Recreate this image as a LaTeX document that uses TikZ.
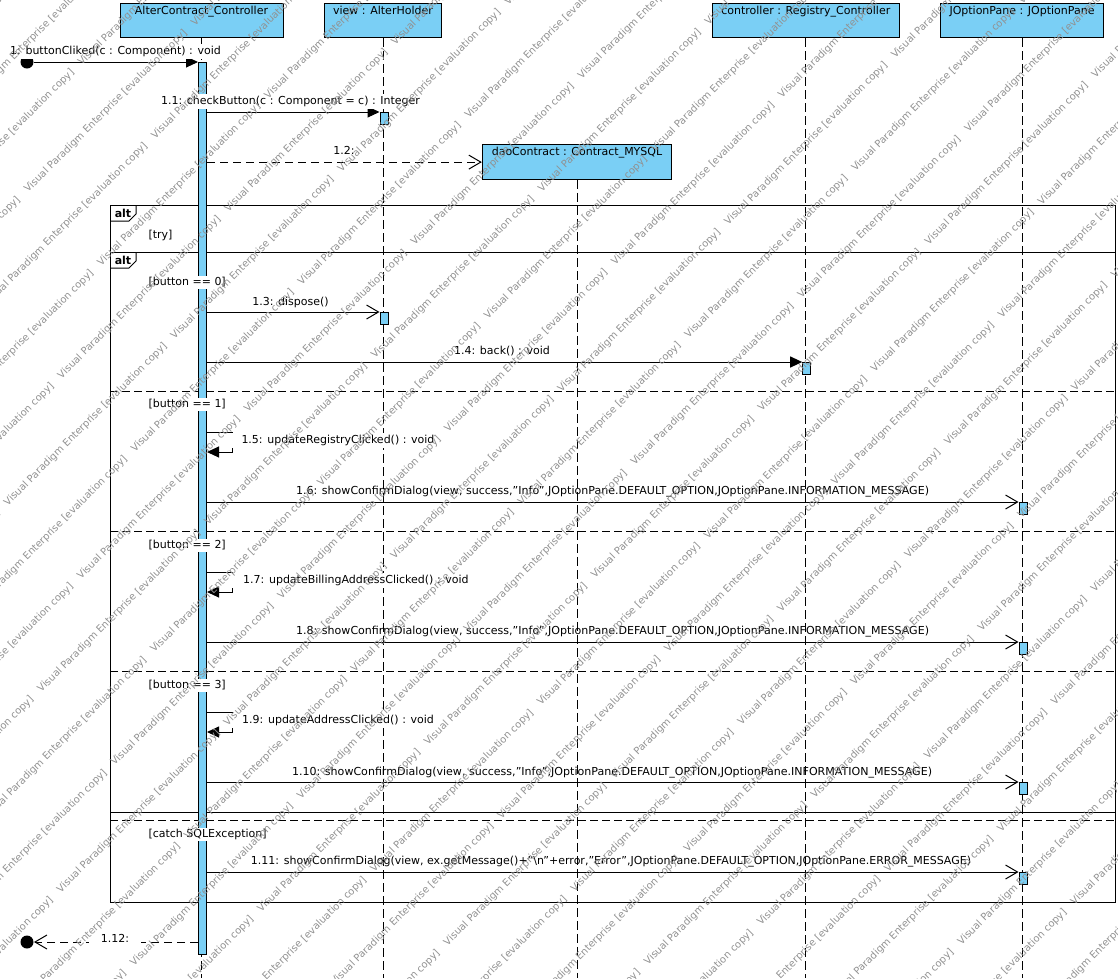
\documentclass[tikz,border=0pt]{standalone}
\usepackage{fontspec}
\usepackage{graphicx}
\setmainfont{DejaVu Sans}
\usetikzlibrary{arrows.meta}
\definecolor{lifefill}{RGB}{122,207,245}
\definecolor{wmgray}{RGB}{145,145,145}
\newcommand{\fitto}[2]{\resizebox{#1}{\height}{#2}}

\begin{document}
\begin{tikzpicture}[x=1pt, y=-1pt, line width=1pt,
  font=\fontsize{11}{13}\selectfont,
  head/.style={draw, fill=lifefill, anchor=north, inner xsep=0pt, inner ysep=0pt,
    text height=10.8pt, text depth=23.8pt},
  bar/.style={draw, fill=lifefill, minimum width=8pt, inner sep=0pt, anchor=north},
  lifeline/.style={dash pattern=on 9pt off 4pt},
  frame/.style={draw, anchor=north west, inner sep=0pt},
  sep/.style={dash pattern=on 8pt off 4pt},
  call/.style={-{Triangle[length=12pt,width=11pt]}},
  async/.style={-{Straight Barb[length=12pt,width=14pt]}},
  create/.style={dash pattern=on 8pt off 5pt, -{Straight Barb[length=12pt,width=14pt]}},
  reply/.style={dash pattern=on 8pt off 5pt, -{Straight Barb[length=12pt,width=14pt]}},
  msglabel/.style={fill=white, inner xsep=12pt, inner ysep=2pt, text height=8.5pt, text depth=2.5pt},
  longlabel/.style={inner sep=0pt, text height=8.5pt, text depth=2.5pt},
  guard/.style={fill=white, anchor=west, inner xsep=1pt, inner ysep=1pt, text height=8.5pt, text depth=2.5pt},
  tabtext/.style={font=\fontsize{11}{13}\selectfont\bfseries, inner sep=0pt},
  endpoint/.style={circle, fill=black, minimum size=13pt, inner sep=0pt},
  wm/.style={font=\fontsize{10}{12}\selectfont, text=wmgray, rotate=45, anchor=west, inner sep=0pt}]

\useasboundingbox (0,0) rectangle (1118,978);
\coordinate (bottom) at (0,978);

% ---- combined fragments ----
\node[frame, minimum width=1005pt, minimum height=697pt] (tryalt) at (110,205) {};
\node[frame, minimum width=1005pt, minimum height=560pt] (btnalt) at (110,252) {};
\draw (tryalt.north west) ++(0,16) -- ++(19,0) -- ++(7,-7) -- ++(0,-9);
\draw (btnalt.north west) ++(0,16) -- ++(19,0) -- ++(7,-7) -- ++(0,-9);
\node[tabtext] (tab1) at (123,213.5) {alt};
\node[tabtext] (tab2) at (123,260.5) {alt};
\draw[sep] (110,391) -- (1115,391);
\draw[sep] (110,531) -- (1115,531);
\draw[sep] (110,671) -- (1115,671);
\draw[sep] (110,820) -- (1115,820);

% ---- lifeline heads ----
\node[head, minimum width=163pt] (hA) at (201.5,2.7) {AlterContract\_Controller};
\node[head, minimum width=117.4pt] (hV) at (383,2.7) {view : AlterHolder};
\node[head, minimum width=189.4pt] (hD) at (577,144.3) {daoContract : Contract\_MYSQL};
\node[head, minimum width=187pt] (hC) at (805.8,2.7) {controller : Registry\_Controller};
\node[head, minimum width=162.6pt] (hJ) at (1022,2.7) {JOptionPane : JOptionPane};

% ---- lifelines ----
\draw[lifeline] (hA.south) -- (hA.south |- bottom);
\draw[lifeline] (hV.south) -- (hV.south |- bottom);
\draw[lifeline] (hD.south) -- (hD.south |- bottom);
\draw[lifeline] (hC.south) -- (hC.south |- bottom);
\draw[lifeline] (hJ.south) -- (hJ.south |- bottom);

% ---- activations ----
\node[bar, minimum height=892pt] (bA) at (202.5,62) {};
\node[bar, minimum height=12pt] (bV1) at (384,112) {};
\node[bar, minimum height=12pt] (bV2) at (384,312) {};
\node[bar, minimum height=12pt] (bC) at (806.7,362) {};
\node[bar, minimum height=12pt] (bJ1) at (1023,502) {};
\node[bar, minimum height=12pt] (bJ2) at (1023,642) {};
\node[bar, minimum height=12pt] (bJ3) at (1023,782) {};
\node[bar, minimum height=12pt] (bJ4) at (1023,872) {};

% ---- found / lost message ends ----
\node[endpoint] (src) at (27,62) {};
\node[endpoint] (sink) at (27,942) {};
\coordinate (s5a) at (232,432);  \coordinate (s5b) at (232,452);
\coordinate (s7a) at (232,572);  \coordinate (s7b) at (232,592);
\coordinate (s9a) at (232,712);  \coordinate (s9b) at (232,732);

% ---- messages ----
\draw[call] (src) -- (bA.north west);
\draw[call] (bA.east |- bV1.north) -- (bV1.north west);
\draw[create] (bA.east |- hD.west) -- (hD.west);
\draw[async] (bA.east |- bV2.north) -- (bV2.north west);
\draw[call] (bA.east |- bC.north) -- (bC.north west);
\draw[call] (bA.east |- s5a) -- (s5a) -- (s5b) -- (bA.east |- s5b);
\draw[async] (bA.east |- bJ1.north) -- (bJ1.north west);
\draw[call] (bA.east |- s7a) -- (s7a) -- (s7b) -- (bA.east |- s7b);
\draw[async] (bA.east |- bJ2.north) -- (bJ2.north west);
\draw[call] (bA.east |- s9a) -- (s9a) -- (s9b) -- (bA.east |- s9b);
\draw[async] (bA.east |- bJ3.north) -- (bJ3.north west);
\draw[async] (bA.east |- bJ4.north) -- (bJ4.north west);
\draw[reply] (bA.west |- sink) -- (sink);

% ---- message labels ----
\node[msglabel] (l1) at (115.5,51) {1: buttonCliked(c : Component) : void};
\node[msglabel] (l11) at (290.5,101) {1.1: checkButton(c : Component = c) : Integer};
\node[msglabel] (l12) at (344,151) {1.2:};
\node[msglabel] (l13) at (290.5,302) {1.3: dispose()};
\node[msglabel] (l14) at (502,351) {1.4: back() : void};
\node[msglabel, anchor=west] (l15) at (229,440.3) {1.5: updateRegistryClicked() : void};
\node[msglabel, anchor=west] (l17) at (230.7,580.3) {1.7: updateBillingAddressClicked() : void};
\node[msglabel, anchor=west] (l19) at (229.7,720.3) {1.9: updateAddressClicked() : void};
\node[msglabel] (l112) at (115,939) {1.12:};
\node[longlabel] (l16) at (612.5,491) {\fitto{633pt}{1.6: showConfirmDialog(view, success,"Info",JOptionPane.DEFAULT\_OPTION,JOptionPane.INFORMATION\_MESSAGE)}};
\node[longlabel] (l18) at (612.5,631) {\fitto{633pt}{1.8: showConfirmDialog(view, success,"Info",JOptionPane.DEFAULT\_OPTION,JOptionPane.INFORMATION\_MESSAGE)}};
\node[longlabel] (l110) at (612,772) {\fitto{640pt}{1.10: showConfirmDialog(view, success,"Info",JOptionPane.DEFAULT\_OPTION,JOptionPane.INFORMATION\_MESSAGE)}};
\node[longlabel] (l111) at (611,861) {\fitto{720pt}{1.11: showConfirmDialog(view, ex.getMessage()+"\textbackslash n"+error,"Error",JOptionPane.DEFAULT\_OPTION,JOptionPane.ERROR\_MESSAGE)}};

% ---- guards ----
\node[guard] (g0) at (147,235) {[try]};
\node[guard] (g1) at (147,282) {[button == 0]};
\node[guard] (g2) at (147,404.5) {[button == 1]};
\node[guard] (g3) at (147,545) {[button == 2]};
\node[guard] (g4) at (147,685) {[button == 3]};
\node[guard] (g5) at (147,834) {[catch SQLException]};

% ---- tool watermark, tiled along 45 degree rows ----
\begin{scope}
\clip (0,0) rectangle (1118,978);
\foreach \k in {-17,...,14}{
  \pgfmathsetmacro\wc{1170+73.3*\k}
  \pgfmathsetmacro\wo{483-128*mod(\k+100,2)}
  \foreach \m in {-7,...,2}{
    \pgfmathsetmacro\wx{(\wo+236*\m)/sqrt(2)+\wc/2}
    \pgfmathsetmacro\wy{\wc/2-(\wo+236*\m)/sqrt(2)}
    \node[wm] at (\wx,\wy) {Visual Paradigm Enterprise [evaluation copy]};
  }
}
\end{scope}
\end{tikzpicture}
\end{document}
